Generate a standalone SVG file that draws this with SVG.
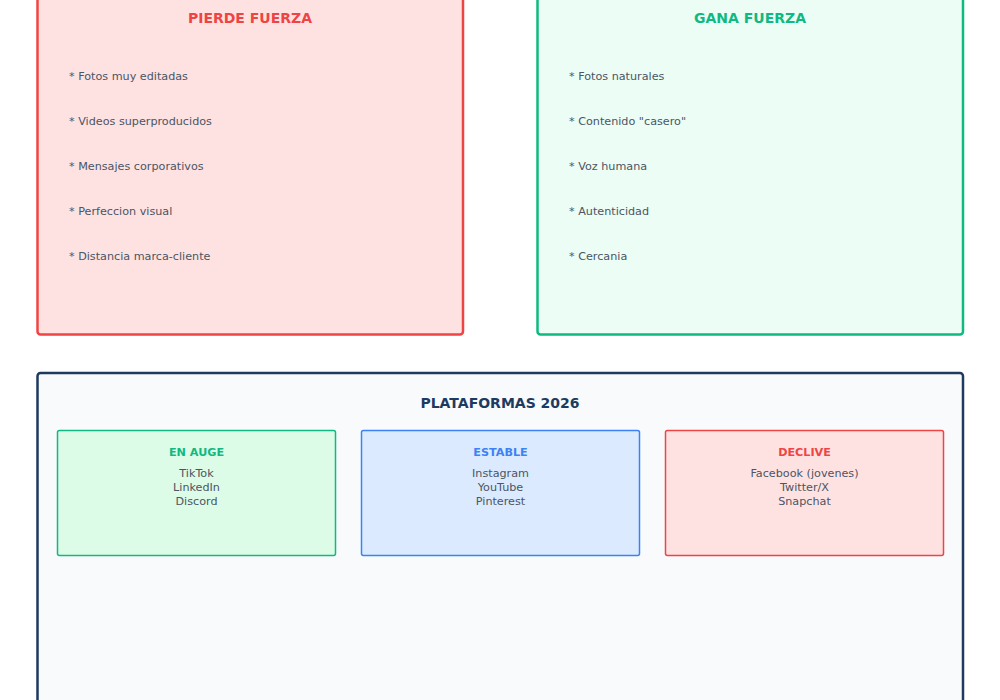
<svg xmlns="http://www.w3.org/2000/svg" width="1000" height="700" viewBox="0 0 1000 700">
<style>
text{font-family:"DejaVu Sans","Noto Sans",sans-serif}
.title{font-size:14px;font-weight:bold;text-anchor:middle}
.item{font-size:11.2px;fill:#4b5563}
.sub{font-size:11.2px;font-weight:bold;text-anchor:middle}
.line{font-size:11.2px;fill:#4b5563;text-anchor:middle}
</style>
<rect width="1000" height="700" fill="#ffffff"/>
<g id="pierde">
<rect x="37.5" y="-20" width="425.5" height="354.5" rx="3" fill="#fee2e2" stroke="#ef4444" stroke-width="2.5"/>
<text class="title" x="250" y="23" fill="#ef4444">PIERDE FUERZA</text>
<text class="item" x="69" y="80">* Fotos muy editadas</text>
<text class="item" x="69" y="125">* Videos superproducidos</text>
<text class="item" x="69" y="170">* Mensajes corporativos</text>
<text class="item" x="69" y="215">* Perfeccion visual</text>
<text class="item" x="69" y="260">* Distancia marca-cliente</text>
</g>
<g id="gana">
<rect x="537.5" y="-20" width="425.5" height="354.5" rx="3" fill="#ecfdf5" stroke="#10b981" stroke-width="2.5"/>
<text class="title" x="750" y="23" fill="#10b981">GANA FUERZA</text>
<text class="item" x="569" y="80">* Fotos naturales</text>
<text class="item" x="569" y="125">* Contenido "casero"</text>
<text class="item" x="569" y="170">* Voz humana</text>
<text class="item" x="569" y="215">* Autenticidad</text>
<text class="item" x="569" y="260">* Cercania</text>
</g>
<g id="plataformas">
<rect x="37.5" y="373" width="925.5" height="360" rx="3" fill="#f8fafc" stroke="#1e3a5f" stroke-width="2.5"/>
<text class="title" x="500" y="408" fill="#1e3a5f">PLATAFORMAS 2026</text>
</g>
<g id="auge">
<rect x="57.5" y="430.5" width="278" height="125" rx="2" fill="#dcfce7" stroke="#10b981" stroke-width="1.5"/>
<text class="sub" x="196.5" y="456" fill="#10b981">EN AUGE</text>
<text class="line" x="196.5" y="477">TikTok</text>
<text class="line" x="196.5" y="491">LinkedIn</text>
<text class="line" x="196.5" y="505">Discord</text>
</g>
<g id="estable">
<rect x="361.5" y="430.5" width="278" height="125" rx="2" fill="#dbeafe" stroke="#3b82f6" stroke-width="1.5"/>
<text class="sub" x="500.5" y="456" fill="#3b82f6">ESTABLE</text>
<text class="line" x="500.5" y="477">Instagram</text>
<text class="line" x="500.5" y="491">YouTube</text>
<text class="line" x="500.5" y="505">Pinterest</text>
</g>
<g id="declive">
<rect x="665.5" y="430.5" width="278" height="125" rx="2" fill="#fee2e2" stroke="#ef4444" stroke-width="1.5"/>
<text class="sub" x="804.5" y="456" fill="#ef4444">DECLIVE</text>
<text class="line" x="804.5" y="477">Facebook (jovenes)</text>
<text class="line" x="804.5" y="491">Twitter/X</text>
<text class="line" x="804.5" y="505">Snapchat</text>
</g>
<g id="connectors"></g>
</svg>
